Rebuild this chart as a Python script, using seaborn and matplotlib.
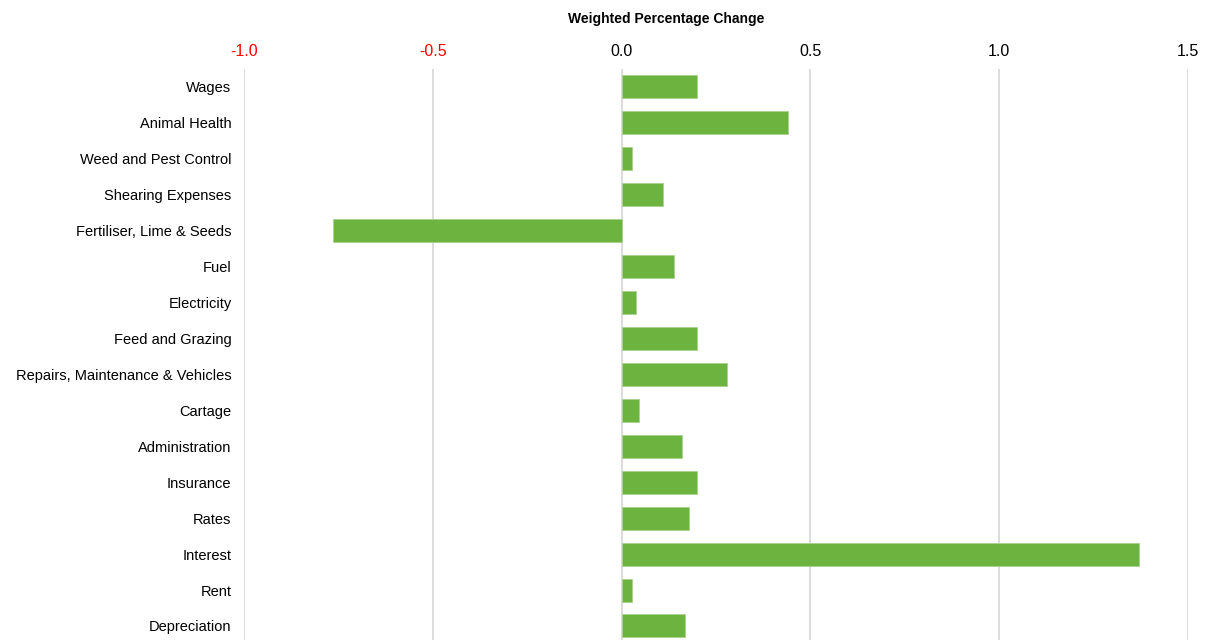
import matplotlib
matplotlib.use("Agg")
import matplotlib.pyplot as plt
import seaborn as sns
import pandas as pd

categories = ["Wages", "Animal Health", "Weed and Pest Control", "Shearing Expenses",
              "Fertiliser, Lime & Seeds", "Fuel", "Electricity", "Feed and Grazing",
              "Repairs, Maintenance & Vehicles", "Cartage", "Administration", "Insurance",
              "Rates", "Interest", "Rent", "Depreciation"]
values = [0.20, 0.44, 0.027, 0.11, -0.765, 0.138, 0.037, 0.20, 0.279, 0.047,
          0.159, 0.20, 0.178, 1.371, 0.027, 0.168]
xticks = [-1.0, -0.5, 0.0, 0.5, 1.0, 1.5]
xtick_labels = ["-1.0", "-0.5", "0.0", "0.5", "1.0", "1.5"]

sns.set_style("white")
plt.rcParams['font.family'] = ['Liberation Sans', 'DejaVu Sans']
plt.rcParams['text.color'] = '#000000'

df = pd.DataFrame({"category": categories, "value": values})

fig = plt.figure(figsize=(12.08, 6.4), dpi=100)
ax = fig.add_axes([244/1208, 0, (1188-244)/1208, (640-69)/640])

sns.barplot(data=df, x="value", y="category", orient="h", color="#6DB33F",
            saturation=1, width=0.64, edgecolor="#A9D18E", linewidth=0.6, ax=ax, zorder=3)

ax.set_xlim(-1.0, 1.5)
ax.set_ylim(15.39, -0.5)
ax.set_xticks(xticks)
ax.set_xticklabels(xtick_labels)
ax.xaxis.tick_top()
ax.xaxis.set_label_position("top")
ax.tick_params(axis="x", length=0, pad=7, labelsize=11.5)
ax.tick_params(axis="y", length=0, pad=9, labelsize=10.5, colors="#000000")
for lbl, v in zip(ax.get_xticklabels(), xticks):
    lbl.set_color("#FF0000" if v < 0 else "#000000")
ax.grid(axis="x", color="#D9D9D9", linewidth=1.3, zorder=0)
ax.grid(axis="y", visible=False)
for s in ax.spines.values():
    s.set_visible(False)
ax.set_xlabel("")
ax.set_ylabel("")

fig.text(666 / 1208, 1 - 19/640, "Weighted Percentage Change",
         ha="center", va="center", fontsize=10, fontweight="bold", color="#000000")

fig.savefig("out.png", dpi=100)
